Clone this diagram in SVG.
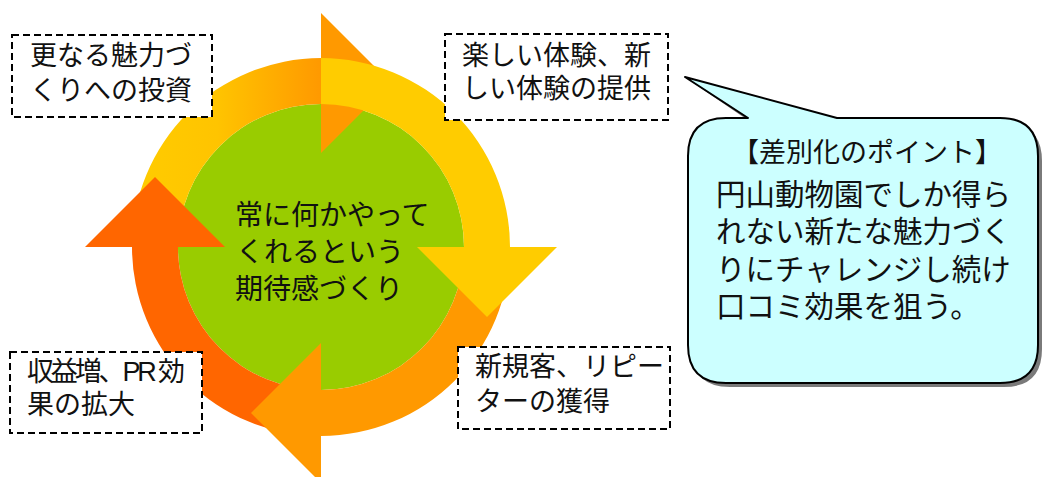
<svg xmlns="http://www.w3.org/2000/svg" width="1043" height="477" viewBox="0 0 1043 477">
<defs>
<style>
.t{font-family:"Liberation Sans","Noto Sans CJK JP","Noto Sans CJK SC",sans-serif;fill:#111;}
.box{fill:#fff;stroke:#000;stroke-width:2;stroke-dasharray:7 4;}
.yel{fill:#FFCC00;}
.org{fill:#FF9900;}
.dor{fill:#FF6600;}
</style>
<linearGradient id="gTL" x1="132" y1="0" x2="321" y2="0" gradientUnits="userSpaceOnUse">
<stop offset="0" stop-color="#FFCC00"/>
<stop offset="0.45" stop-color="#FFC400"/>
<stop offset="1" stop-color="#FF9900"/>
</linearGradient>
</defs>
<rect width="1043" height="477" fill="#fff"/>

<g id="center">
<circle cx="321" cy="247" r="143" fill="#99CC00"/>
</g>

<g id="connectors">
<g id="arrow-top-left">
<path d="M132,247 A189,189 0 0 1 321,58 L321,104 A143,143 0 0 0 178,247 Z" fill="url(#gTL)"/>
<polygon class="org" points="321,13 321,153 391,83"/>
</g>
<g id="arrow-bottom-left">
<path class="dor" d="M321,436 A189,189 0 0 1 132,247 L178,247 A143,143 0 0 0 321,390 Z"/>
<polygon class="dor" points="85,247 225,247 155,177"/>
</g>
<g id="arrow-bottom-right">
<path class="org" d="M510,247 A189,189 0 0 1 321,436 L321,390 A143,143 0 0 0 464,247 Z"/>
<polygon class="org" points="321,343 321,483 251,413"/>
</g>
<g id="arrow-top-right">
<path class="yel" d="M321,58 A189,189 0 0 1 510,247 L464,247 A143,143 0 0 0 321,104 Z"/>
<polygon class="yel" points="417,247 557,247 487,317"/>
</g>
</g>

<g id="center-text">
<text class="t" font-size="28"><tspan x="235" y="225">常に何かやって</tspan><tspan x="236" y="262">くれるという</tspan><tspan x="235" y="299">期待感づくり</tspan></text>
</g>

<g id="node-investment">
<rect class="box" x="12" y="35" width="200" height="82"/>
<text class="t" font-size="27"><tspan x="30" y="65">更なる魅力づ</tspan><tspan x="30" y="100">くりへの投資</tspan></text>
</g>

<g id="node-experience">
<rect class="box" x="445" y="34" width="223" height="86"/>
<text class="t" font-size="27"><tspan x="462" y="65">楽しい体験、新</tspan><tspan x="462" y="98">しい体験の提供</tspan></text>
</g>

<g id="node-revenue">
<rect class="box" x="10" y="352" width="192" height="81"/>
<text class="t" font-size="27"><tspan x="27" y="381" textLength="158" lengthAdjust="spacing">収益増、PR 効</tspan><tspan x="27" y="414">果の拡大</tspan></text>
</g>

<g id="node-customers">
<rect class="box" x="458" y="347" width="212" height="82"/>
<text class="t" font-size="27"><tspan x="475" y="376">新規客、リピー</tspan><tspan x="475" y="411">ターの獲得</tspan></text>
</g>

<g id="callout">
<path d="M692,82 L752,123 L726,123 Q692,123 692,161 L692,349 Q692,387 730,387 L1004,387 Q1042,387 1042,349 L1042,161 Q1042,123 1004,123 L841,123 Z" fill="#7a7a7a"/>
<path d="M685,77 L748,118 L726,118 Q688,118 688,156 L688,345 Q688,383 726,383 L1000,383 Q1038,383 1038,345 L1038,156 Q1038,118 1000,118 L837,118 Z" fill="#CCFFFF" stroke="#000" stroke-width="2" stroke-linejoin="round"/>
<text class="t"><tspan x="867" y="162" text-anchor="middle" font-size="27">【差別化のポイント】</tspan><tspan x="716" y="205" font-size="29.5">円山動物園でしか得ら</tspan><tspan x="716" y="242" font-size="29.5">れない新たな魅力づく</tspan><tspan x="716" y="280" font-size="29.5">りにチャレンジし続け</tspan><tspan x="716" y="317" font-size="29.5">口コミ効果を狙う。</tspan></text>
</g>
</svg>
